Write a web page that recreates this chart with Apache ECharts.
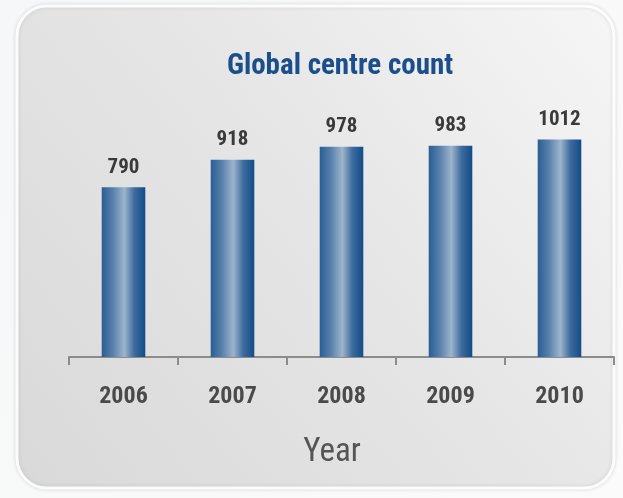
<!DOCTYPE html>
<html>
<head>
<meta charset="utf-8">
<script src="https://cdn.jsdelivr.net/npm/echarts@6/dist/echarts.min.js"></script>
<style>
  html, body { margin: 0; padding: 0; background: #ffffff; }
  #chart { width: 623px; height: 498px; }
</style>
</head>
<body>
<div id="chart"></div>
<script>
// Number of centres worldwide, by year
const years = ['2006', '2007', '2008', '2009', '2010'];
const centreCounts = [790, 918, 978, 983, 1012];
const chartTitle = 'Global centre count';
const axisName = 'Year';

const FONT = '"Roboto Condensed", "Liberation Sans", Arial, sans-serif';

// Cylinder-like shading across each bar
const barFill = new echarts.graphic.LinearGradient(0, 0, 1, 0, [
  { offset: 0, color: '#2a5e94' },
  { offset: 0.25, color: '#5680ab' },
  { offset: 0.52, color: '#9db4cc' },
  { offset: 0.75, color: '#3d6b9e' },
  { offset: 1, color: '#124c88' }
]);

const chart = echarts.init(document.getElementById('chart'), null, { renderer: 'canvas' });

chart.setOption({
  backgroundColor: new echarts.graphic.LinearGradient(0, 0, 1, 1, [
    { offset: 0, color: '#f6f7f8' },
    { offset: 1, color: '#fbfbfb' }
  ]),
  graphic: [
    {
      type: 'rect',
      z: -10,
      shape: { x: 17, y: 6, width: 597, height: 482, r: 30 },
      style: {
        fill: new echarts.graphic.LinearGradient(0, 1, 1, 0, [
          { offset: 0, color: '#d9d9d9' },
          { offset: 0.55, color: '#e6e6e6' },
          { offset: 1, color: '#f6f6f6' }
        ]),
        stroke: 'rgba(255,255,255,0.9)',
        lineWidth: 3,
        shadowColor: 'rgba(0,0,0,0.12)',
        shadowBlur: 4
      }
    },
    {
      type: 'text',
      z: 10,
      x: 340,
      y: 67,
      style: {
        text: chartTitle,
        font: 'bold 29px ' + FONT,
        fill: '#1b4f8c',
        align: 'center',
        verticalAlign: 'middle'
      }
    },
    {
      type: 'text',
      z: 10,
      x: 332,
      y: 453,
      style: {
        text: axisName,
        font: '33px ' + FONT,
        fill: '#555555',
        align: 'center',
        verticalAlign: 'middle'
      }
    }
  ],
  grid: { left: 69, right: 9, top: 99, bottom: 141, containLabel: false },
  xAxis: {
    type: 'category',
    data: years,
    boundaryGap: true,
    axisLine: { show: true, lineStyle: { color: '#8c8c8c', width: 2 } },
    axisTick: { show: true, alignWithLabel: false, length: 8, lineStyle: { color: '#8c8c8c', width: 2 } },
    axisLabel: {
      margin: 28,
      fontFamily: FONT,
      fontWeight: 'bold',
      fontSize: 24,
      color: '#4a4a4a'
    }
  },
  yAxis: {
    type: 'value',
    min: 0,
    max: 1200,
    show: false,
    splitLine: { show: false }
  },
  series: [
    {
      type: 'bar',
      data: centreCounts,
      barWidth: '40%',
      itemStyle: { color: barFill },
      label: {
        show: true,
        position: 'top',
        distance: 9,
        fontFamily: FONT,
        fontWeight: 'bold',
        fontSize: 21,
        color: '#3a3a3a'
      },
      animation: false
    }
  ],
  animation: false
});
</script>
</body>
</html>
